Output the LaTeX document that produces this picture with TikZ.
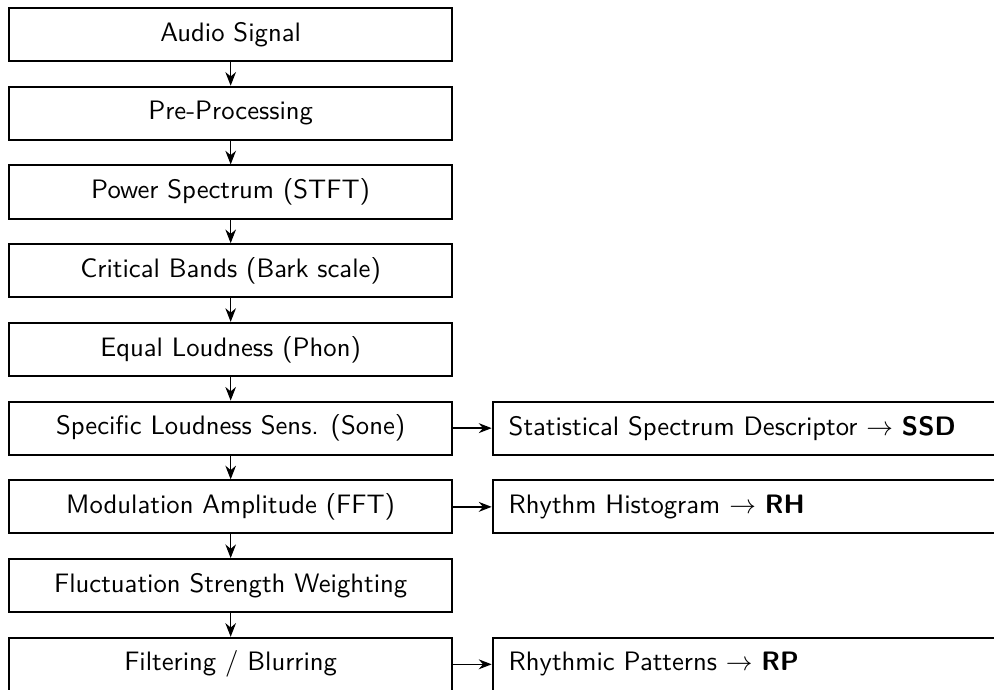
\documentclass[tikz,border=0pt]{standalone}
\usepackage{amsmath}
\usepackage{tikz}
\usetikzlibrary{arrows.meta}
\tikzset{
  blk/.style={draw,line width=0.75pt,minimum width=5.84cm,minimum height=0.70cm,inner sep=0pt,font=\sffamily},
  desc/.style={draw,line width=0.75pt,anchor=west,text width=8cm,minimum height=0.70cm,inner xsep=6pt,inner ysep=0pt,align=left,font=\sffamily},
  flow/.style={-{Stealth[length=1.8mm,width=1.4mm]},line width=0.4pt},
  side/.style={-{Stealth[length=1.7mm,width=1.3mm]},line width=0.6pt},
}

\begin{document}
\begin{tikzpicture}
  \useasboundingbox (0,0) rectangle (13.10,-9.09);
  \node[blk] (audio) at (3.04,-0.455)  {Audio Signal};
  \node[blk] (pre)   at (3.04,-1.4925) {Pre-Processing};
  \node[blk] (stft)  at (3.04,-2.53)   {Power Spectrum (STFT)};
  \node[blk] (bark)  at (3.04,-3.5675) {Critical Bands (Bark scale)};
  \node[blk] (phon)  at (3.04,-4.605)  {Equal Loudness (Phon)};
  \node[blk] (sone)  at (3.04,-5.6425) {Specific Loudness Sens. (Sone)};
  \node[blk] (fft)   at (3.04,-6.68)   {Modulation Amplitude (FFT)};
  \node[blk] (fluct) at (3.04,-7.7175) {Fluctuation Strength Weighting};
  \node[blk] (filt)  at (3.04,-8.755)  {Filtering / Blurring};
  \node[desc] (ssd) at (6.48,-5.6425) {Statistical Spectrum Descriptor $\rightarrow$ \textbf{SSD}};
  \node[desc] (rh)  at (6.48,-6.68)   {Rhythm Histogram $\rightarrow$ \textbf{RH}};
  \node[desc] (rp)  at (6.48,-8.755)  {Rhythmic Patterns $\rightarrow$ \textbf{RP}};
  \foreach \a/\b in {audio/pre,pre/stft,stft/bark,bark/phon,phon/sone,sone/fft,fft/fluct,fluct/filt}
    \draw[flow] (\a) -- (\b);
  \draw[side] (sone) -- (ssd);
  \draw[side] (fft) -- (rh);
  \draw[side] (filt) -- (rp);
\end{tikzpicture}
\end{document}
